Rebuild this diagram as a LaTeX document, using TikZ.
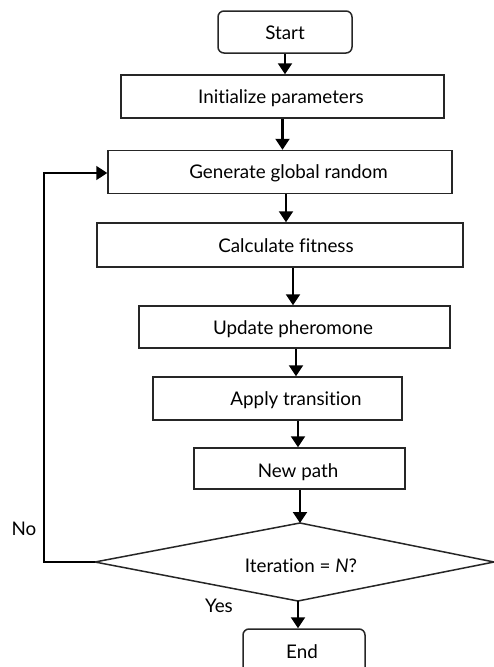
\documentclass[tikz,border=0pt]{standalone}
\usepackage{fontspec}
\setmainfont{Lato}[Ligatures={NoCommon}]
\usetikzlibrary{arrows.meta,calc}
\begin{document}
\begin{tikzpicture}[x=1pt,y=-1pt,
  box/.style={draw=black!85, line width=1.5pt, inner sep=0pt},
  rbox/.style={box, rounded corners=6pt},
  txt/.style={inner sep=0pt, font=\fontsize{18.8}{21}\selectfont, text=black, anchor=base},
  arr/.style={draw=black, line width=2.3pt, -{Triangle[width=14pt,length=11pt]}},
  ln/.style={draw=black!85, line width=1.5pt}]
\useasboundingbox (0,0) rectangle (494,667);
\clip (0,0) rectangle (494,667);
% boxes
\node[rbox, minimum width=134pt, minimum height=42pt] (start) at (285,32) {};
\node[box, minimum width=323pt, minimum height=43pt] (init) at (282.5,96.5) {};
\node[box, minimum width=344pt, minimum height=43pt] (gen) at (280,172) {};
\node[box, minimum width=366pt, minimum height=44pt] (calc) at (280,245) {};
\node[box, minimum width=311pt, minimum height=42pt] (upd) at (294.5,327) {};
\node[box, minimum width=249pt, minimum height=43pt] (apply) at (277.5,398.5) {};
\node[box, minimum width=211pt, minimum height=41pt] (new) at (299.5,468.5) {};
\node[rbox, minimum width=122pt, minimum height=60pt] (end) at (304,659) {};
% diamond
\coordinate (dT) at (300,523);
\coordinate (dL) at (95,562);
\coordinate (dR) at (494,562);
\coordinate (dB) at (298,601);
\draw[ln] (dT) -- (dR) -- (dB) -- (dL) -- cycle;
% texts
\node[txt] (startT) at (285,39) {Start};
\node[txt] (initT) at (281,103) {Initialize parameters};
\node[txt] (genT) at (288.5,178) {Generate global random};
\node[txt] (calcT) at (286,252) {Calculate fitness};
\node[txt] (updT) at (293,334) {Update pheromone};
\node[txt] (applyT) at (296,405) {Apply transition};
\node[txt] (newT) at (298,477) {New path};
\node[txt] (decT) at (301,572) {Iteration = \textit{N}?};
\node[txt] (endT) at (302,658) {End};
\node[txt] (noT) at (24,535) {No};
\node[txt] (yesT) at (219,612) {Yes};
% connectors
\draw[arr] (start.south) -- (start.south |- init.north);
\draw[arr] (init.south) -- (init.south |- gen.north);
\draw[arr] (gen.south -| calcT) -- (calc.north -| calcT);
\draw[arr] (calc.south -| updT) -- (upd.north -| updT);
\draw[arr] (upd.south -| applyT) -- (apply.north -| applyT);
\draw[arr] (apply.south -| newT) -- (new.north -| newT);
\draw[arr] (new.south -| dT) -- (dT);
\draw[arr] (dB) -- (end.north -| dB);
\coordinate (loopL) at (44,562);
\draw[arr, line width=1.7pt] (dL) -- (loopL) -- (loopL |- 0,173) -- (gen.west |- 0,173);
\end{tikzpicture}
\end{document}
